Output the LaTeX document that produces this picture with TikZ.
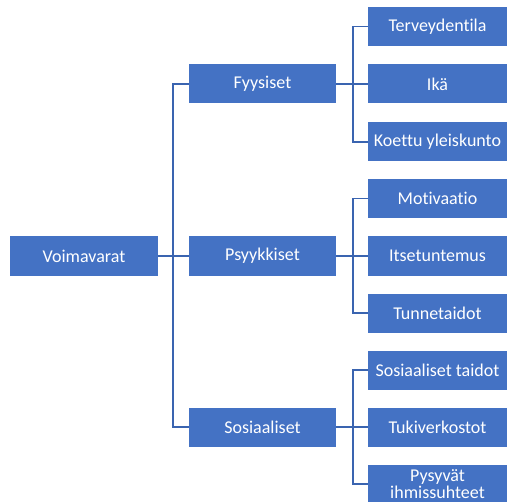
\documentclass[tikz,border=0pt]{standalone}
\usepackage{fontspec}
\setmainfont{Carlito}[Ligatures=NoCommon]
\usetikzlibrary{positioning}
\definecolor{boxblue}{HTML}{4472C4}
\definecolor{lineblue}{HTML}{3A64B0}
\tikzset{%
    box/.style={%
        fill=boxblue, text=white, inner sep=0pt,
        minimum height=29.25pt, align=center,
        font=\fontsize{13.5}{12.5}\selectfont
    },
    rootbox/.style={box, minimum width=111pt, minimum height=30pt},
    midbox/.style={box, minimum width=110.25pt},
    leafbox/.style={box, minimum width=104.25pt},
    link/.style={lineblue, line width=1.1pt}
}

\begin{document}
\begin{tikzpicture}[x=0.75pt, y=-0.75pt]

    \useasboundingbox (0, 0) rectangle (510, 502);
    \clip (0, 0) rectangle (510, 502);

    % Root
    \node[rootbox] (root) at (84, 256) {Voimavarat};

    % Main groups
    \node[midbox] (fyysiset) at (262.5, 84) {Fyysiset};
    \node[midbox] (psyykkiset) at (262.5, 256) {Psyykkiset};
    \node[midbox] (sosiaaliset) at (262.5, 427) {Sosiaaliset};

    \coordinate (trunk) at (173, 256);
    \draw[link] (root.east) -- (psyykkiset.west);
    \draw[link] (fyysiset.west) -| (trunk) |- (sosiaaliset.west);

    % Fyysiset
    \node[leafbox] (terveys) at (437.5, 26.5) {Terveydentila};
    \node[leafbox] (ika) at (437.5, 84) {Ikä};
    \node[leafbox] (kunto) at (437.5, 142) {Koettu yleiskunto};

    \coordinate (f-trunk) at (353, 84);
    \draw[link] (fyysiset.east) -- (ika.west);
    \draw[link] (terveys.west) -| (f-trunk) |- (kunto.west);

    % Psyykkiset
    \node[leafbox] (motivaatio) at (437.5, 198.5) {Motivaatio};
    \node[leafbox] (itsetuntemus) at (437.5, 256) {Itsetuntemus};
    \node[leafbox] (tunnetaidot) at (437.5, 313) {Tunnetaidot};

    \coordinate (p-trunk) at (353, 256);
    \draw[link] (psyykkiset.east) -- (itsetuntemus.west);
    \draw[link] (motivaatio.west) -| (p-trunk) |- (tunnetaidot.west);

    % Sosiaaliset
    \node[leafbox] (taidot) at (437.5, 370) {Sosiaaliset taidot};
    \node[leafbox] (tuki) at (437.5, 427) {Tukiverkostot};
    \node[leafbox] (suhteet) at (437.5, 484) {Pysyvät\\ihmissuhteet};

    \coordinate (s-trunk) at (353, 427);
    \draw[link] (sosiaaliset.east) -- (tuki.west);
    \draw[link] (taidot.west) -| (s-trunk) |- (suhteet.west);

\end{tikzpicture}
\end{document}
